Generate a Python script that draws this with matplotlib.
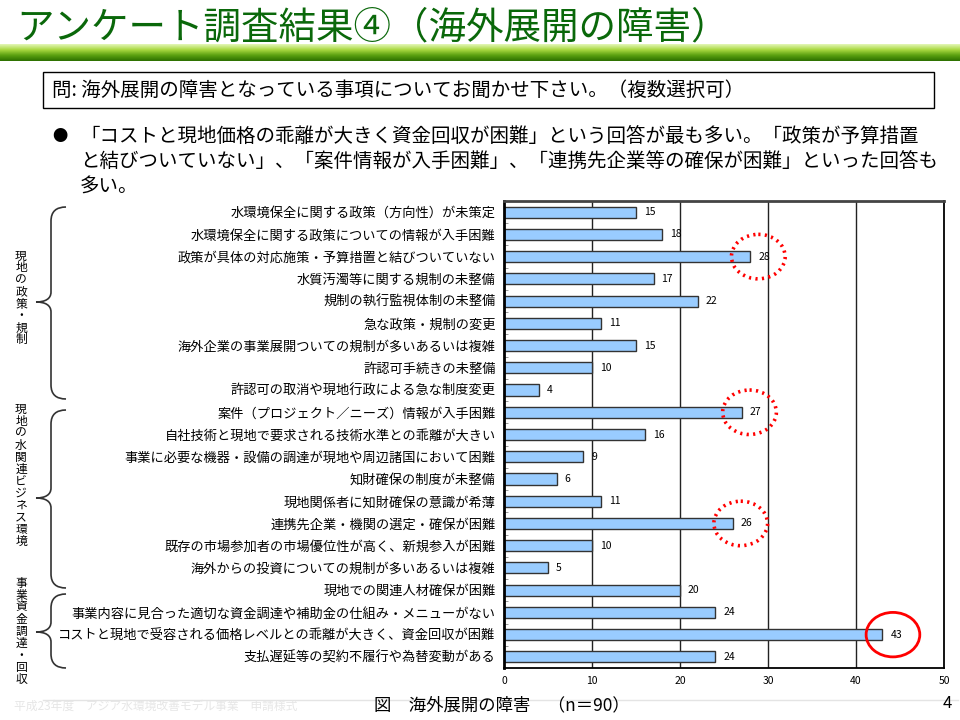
import numpy as np
import matplotlib
matplotlib.use("Agg")
import matplotlib.pyplot as plt
from matplotlib.patches import Rectangle, Ellipse, PathPatch
from matplotlib.path import Path

plt.rcParams['font.family'] = ['Noto Sans CJK JP', 'DejaVu Sans']

W, H = 960, 720

# ---- data ----
items = [
    "水環境保全に関する政策（方向性）が未策定",
    "水環境保全に関する政策についての情報が入手困難",
    "政策が具体の対応施策・予算措置と結びついていない",
    "水質汚濁等に関する規制の未整備",
    "規制の執行監視体制の未整備",
    "急な政策・規制の変更",
    "海外企業の事業展開ついての規制が多いあるいは複雑",
    "許認可手続きの未整備",
    "許認可の取消や現地行政による急な制度変更",
    "案件（プロジェクト／ニーズ）情報が入手困難",
    "自社技術と現地で要求される技術水準との乖離が大きい",
    "事業に必要な機器・設備の調達が現地や周辺諸国において困難",
    "知財確保の制度が未整備",
    "現地関係者に知財確保の意識が希薄",
    "連携先企業・機関の選定・確保が困難",
    "既存の市場参加者の市場優位性が高く、新規参入が困難",
    "海外からの投資についての規制が多いあるいは複雑",
    "現地での関連人材確保が困難",
    "事業内容に見合った適切な資金調達や補助金の仕組み・メニューがない",
    "コストと現地で受容される価格レベルとの乖離が大きく、資金回収が困難",
    "支払遅延等の契約不履行や為替変動がある",
]
counts = [15, 18, 28, 17, 22, 11, 15, 10, 4, 27, 16, 9, 6, 11, 26, 10, 5, 20, 24, 43, 24]
xticks = [0, 10, 20, 30, 40, 50]

groups = ["現地の政策・規制", "現地の水関連ビジネス環境", "事業資金調達・回収"]
highlight_dotted = [2, 9, 14]   # rows circled with dotted red
highlight_solid = [19]          # row circled with solid red

title = "アンケート調査結果④（海外展開の障害）"
question = "問: 海外展開の障害となっている事項についてお聞かせ下さい。（複数選択可）"
bullet_lines = [
    "「コストと現地価格の乖離が大きく資金回収が困難」という回答が最も多い。「政策が予算措置",
    "と結びついていない」、「案件情報が入手困難」、「連携先企業等の確保が困難」といった回答も",
    "多い。",
]
caption = "図　海外展開の障害　（n＝90）"
footer = "平成23年度　アジア水環境改善モデル事業　申請様式"


def fx(x):
    return x / W


def fy(y):
    return 1 - y / H


fig = plt.figure(figsize=(9.6, 7.2), dpi=100)

# green gradient band under the title
band = fig.add_axes([0, fy(61), 1, 17 / H])
grad = np.linspace(0, 1, 64).reshape(-1, 1)
cmap = matplotlib.colors.LinearSegmentedColormap.from_list(
    "g", ["#e4f7b8", "#a8d840", "#5aa010", "#2c7000"])
band.imshow(grad, aspect="auto", cmap=cmap, extent=[0, 1, 0, 1])
band.axis("off")

fig.text(fx(16), fy(28), title, fontsize=27, color="#0a680a",
         va="center", ha="left", zorder=5)

# question box
fig.patches.append(Rectangle((fx(43), fy(108)), fx(934) - fx(43), (108 - 72) / H,
                             transform=fig.transFigure, fill=False,
                             edgecolor="black", lw=1))
fig.text(fx(52), fy(90), question, fontsize=14, va="center", ha="left")

# bullet text
fig.text(fx(52), fy(137), "●", fontsize=11, va="center", ha="left")
for i, line in enumerate(bullet_lines):
    fig.text(fx(80), fy(137 + 25 * i), line, fontsize=14, va="center", ha="left")

# ---- bar chart ----
ax = fig.add_axes([fx(504), fy(668), (944 - 504) / W, (668 - 201) / H])
y = np.arange(len(items))
ax.barh(y, counts, height=0.5, color="#99ccff", edgecolor="#333333", lw=1, zorder=2)
for yi, v in zip(y, counts):
    ax.text(v + 0.9, yi, str(v), fontsize=7.5, va="center", ha="left", zorder=4)

ax.set_xlim(0, 50)
ax.set_ylim(len(items) - 0.5, -0.5)
ax.set_xticks(xticks)
ax.set_yticks(y)
ax.set_yticklabels(items, fontsize=9.5)
ax.set_yticks(np.arange(0.5, len(items) - 1, 1), minor=True)
ax.tick_params(axis="y", which="major", length=0, pad=6)
ax.tick_params(axis="y", which="minor", length=3, direction="in", color="#888888")
ax.tick_params(axis="x", length=0, labelsize=7.5, pad=6)
for xv in xticks[1:-1]:
    ax.axvline(xv, color="#222222", lw=1, zorder=1)
for s in ["left", "top"]:
    ax.spines[s].set_linewidth(2)
ax.spines["top"].set_color("#444444")
ax.spines["right"].set_linewidth(1.3)
ax.spines["bottom"].set_linewidth(1.3)

# red circles
for r in highlight_dotted:
    ax.add_patch(Ellipse((counts[r] + 0.9, r), 6.1, 2.0, fill=False,
                         edgecolor="red", lw=2.6, linestyle=(0, (0.6, 1.2)),
                         zorder=5, clip_on=False))
for r in highlight_solid:
    ax.add_patch(Ellipse((counts[r] + 1.2, r), 6.1, 2.0, fill=False,
                         edgecolor="red", lw=2, zorder=5, clip_on=False))


# ---- braces and group labels ----
def brace(y0, ym, y1, xt=36, xl=51, xe=66):
    pts = [(xe, y0), (xl, y0), (xl, y0 + 14),
           (xl, ym - 10),
           (xl, ym - 3), (xl - 6, ym), (xt, ym),
           (xl - 6, ym), (xl, ym + 3), (xl, ym + 10),
           (xl, y1 - 14),
           (xl, y1), (xe, y1)]
    codes = [Path.MOVETO, Path.CURVE3, Path.CURVE3,
             Path.LINETO,
             Path.CURVE4, Path.CURVE4, Path.CURVE4,
             Path.CURVE4, Path.CURVE4, Path.CURVE4,
             Path.LINETO,
             Path.CURVE3, Path.CURVE3]
    verts = [(fx(px), fy(py)) for px, py in pts]
    fig.patches.append(PathPatch(Path(verts, codes), transform=fig.transFigure,
                                 fill=False, edgecolor="#333333", lw=1.2))


brace(207, 302, 399)
brace(410, 498, 588)
brace(594, 632, 668)

label_tops = [256, 409, 583]
for text, top in zip(groups, label_tops):
    for k, ch in enumerate(text):
        fig.text(fx(21), fy(top + 12 * k), ch, fontsize=8.5, va="center", ha="center")

# footer
fig.add_artist(plt.Line2D([fx(43), fx(958)], [fy(700), fy(700)],
                          transform=fig.transFigure, color="#e4e4e4", lw=1))
fig.text(fx(14), fy(706), footer, fontsize=8.5, color="#e6e6e6", va="center", ha="left")
fig.text(fx(502), fy(705), caption, fontsize=12.5, va="center", ha="center")
fig.text(fx(952), fy(703), "4", fontsize=12, va="center", ha="right")

fig.savefig("out.png", dpi=100)
